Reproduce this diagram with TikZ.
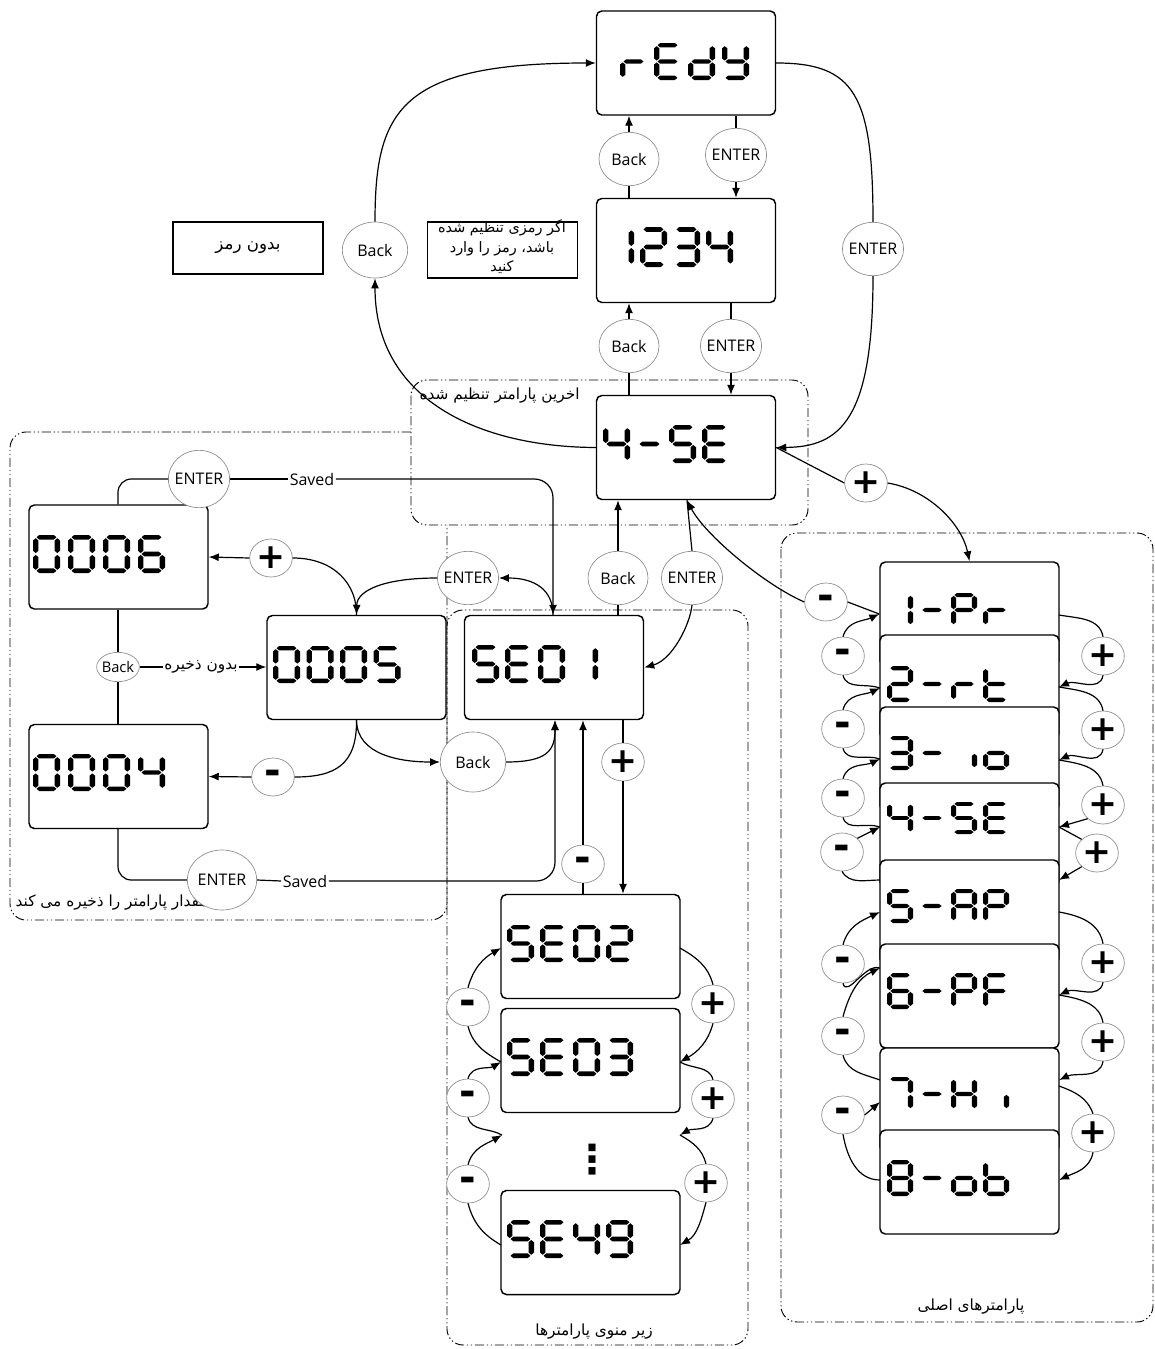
\documentclass[tikz,border=0pt]{standalone}
\usepackage{fontspec}
\setmainfont{Open Sans}
\newfontfamily\fa[Script=Arabic]{DejaVu Sans}
\newfontfamily\djv{DejaVu Sans}
\TeXXeTstate=1
\usetikzlibrary{shapes.geometric,arrows.meta}
% seven segment pieces (unit cell: width 1, height 2, y downwards)
\def\sgA{\fill (0.13,0.12)--(0.23,0)--(0.77,0)--(0.87,0.12)--(0.77,0.24)--(0.23,0.24)--cycle;}
\def\sgG{\fill (0.13,1)--(0.23,0.88)--(0.77,0.88)--(0.87,1)--(0.77,1.12)--(0.23,1.12)--cycle;}
\def\sgD{\fill (0.13,1.88)--(0.23,1.76)--(0.77,1.76)--(0.87,1.88)--(0.77,2)--(0.23,2)--cycle;}
\def\sgF{\fill (0.1,0.17)--(0.2,0.29)--(0.2,0.83)--(0.1,0.95)--(0,0.83)--(0,0.29)--cycle;}
\def\sgB{\fill (0.9,0.17)--(1,0.29)--(1,0.83)--(0.9,0.95)--(0.8,0.83)--(0.8,0.29)--cycle;}
\def\sgE{\fill (0.1,1.05)--(0.2,1.17)--(0.2,1.71)--(0.1,1.83)--(0,1.71)--(0,1.17)--cycle;}
\def\sgC{\fill (0.9,1.05)--(1,1.17)--(1,1.71)--(0.9,1.83)--(0.8,1.71)--(0.8,1.17)--cycle;}
\def\sevr{\sgE\sgG}
\def\sevE{\sgA\sgD\sgE\sgF\sgG}
\def\sevd{\sgB\sgC\sgD\sgE\sgG}
\def\sevy{\sgB\sgC\sgD\sgF\sgG}
\def\sevone{\sgB\sgC}
\def\sevtwo{\sgA\sgB\sgD\sgE\sgG}
\def\sevthree{\sgA\sgB\sgC\sgD\sgG}
\def\sevfour{\sgB\sgC\sgF\sgG}
\def\sevfive{\sgA\sgC\sgD\sgF\sgG}
\def\sevsix{\sgA\sgC\sgD\sgE\sgF\sgG}
\def\sevseven{\sgA\sgB\sgC}
\def\seveight{\sgA\sgB\sgC\sgD\sgE\sgF\sgG}
\def\sevnine{\sgA\sgB\sgC\sgD\sgF\sgG}
\def\sevzero{\sgA\sgB\sgC\sgD\sgE\sgF}
\def\sevdash{\sgG}
\def\sevP{\sgA\sgB\sgE\sgF\sgG}
\def\sevt{\sgD\sgE\sgF\sgG}
\def\sevi{\sgC}
\def\sevo{\sgC\sgD\sgE\sgG}
\def\sevA{\sgA\sgB\sgC\sgE\sgF\sgG}
\def\sevF{\sgA\sgE\sgF\sgG}
\def\sevH{\sgB\sgC\sgE\sgF\sgG}
\def\sevb{\sgC\sgD\sgE\sgF\sgG}
% #1 x, #2 y (top-left), #3 pitch, #4 width, #5 height, #6 list
\newcommand\sevdisp[6]{\foreach \cc [count=\ii from 0] in {#6}{\begin{scope}[shift={({#1+\ii*#3},{#2})},xscale=#4,yscale={#5/2}]\cc\end{scope}}}
\begin{document}
\begin{tikzpicture}[x=0.75pt,y=-0.75pt,
  lcd/.style={draw, line width=1.1pt, rounded corners=4pt, fill=white, minimum width=134.25pt, minimum height=78pt, inner sep=0pt},
  ov/.style={ellipse, draw=black!45, line width=0.5pt, fill=white, inner xsep=-2pt, inner ysep=0pt, minimum width=45pt, minimum height=40pt, font=\fontsize{12}{14}\selectfont},
  pmc/.style={ellipse, draw=black!45, line width=0.5pt, fill=white, inner sep=0pt, minimum width=32pt, minimum height=28.5pt},
  pls/.style={pmc, font=\djv\bfseries\fontsize{26}{26}\selectfont},
  mns/.style={pmc, font=\djv\bfseries\fontsize{30}{30}\selectfont},
  con/.style={line width=0.9pt},
  arr/.style={con, -{Latex[length=7.5pt,width=6pt]}},
  zone/.style={draw, line width=0.7pt, rounded corners=12pt, dash pattern=on 7pt off 2pt on 1pt off 2pt on 1pt off 2pt},
  fatxt/.style={font=\fa\fontsize{11.5}{13}\selectfont, inner sep=1pt},
  lbl/.style={font=\fontsize{12}{14}\selectfont, inner sep=1pt}
]
\useasboundingbox (0,0) rectangle (1155,1349);
\coordinate (vA) at (687,0);
\coordinate (vB) at (553,0);
\coordinate (vC) at (555,0);
\coordinate (vD) at (118,0);
% zones
\draw[zone] (411,380) rectangle (808,525);
\draw[zone] (411,432) -- (10,432) -- (10,920) -- (447,920) -- (447,525);
\draw[zone] (447,610) rectangle (748,1345);
\draw[zone] (781,533) rectangle (1153,1322);
\node[fatxt, anchor=west] (zl1) at (418,396) {\beginR اخرین پارامتر تنظیم شده\endR};
\node[fatxt, anchor=west] (zl2) at (14,903) {\beginR مقدار پارامتر را ذخیره می کند\endR};
\node[fatxt] (zl3) at (594,1332) {\beginR زیر منوی پارامترها\endR};
\node[fatxt] (zl4) at (971,1307) {\beginR پارامترهای اصلی\endR};
% text boxes
\node[draw, line width=0.9pt, minimum width=112.5pt, minimum height=39pt, font=\fa\fontsize{12.5}{14}\selectfont] (nopw) at (248,248) {\beginR بدون رمز\endR};
\node[draw, line width=0.9pt, minimum width=112pt, minimum height=42pt] (pwbox) at (502.5,250) {};
\node[align=center, font=\fa\fontsize{10.8}{14.6}\selectfont, inner sep=0pt] (pwtxt) at (502,247) {\beginR اگر رمزی تنظیم شده\endR\\\beginR باشد، رمز را وارد\endR\\\beginR کنید\endR};
% display boxes
\node[lcd] (rdy) at (686,63) {};
\node[lcd] (pw) at (686,250.5) {};
\node[lcd] (lst) at (686,447.5) {};
\node[lcd] (b6) at (118.5,557) {};
\node[lcd] (b5) at (356.5,667.5) {};
\node[lcd] (b4) at (118.5,776.5) {};
\node[lcd] (se01) at (554,667.5) {};
\node[lcd] (se02) at (590.5,946.5) {};
\node[lcd] (se03) at (590.5,1060.5) {};
\node[lcd] (se49) at (590.5,1242.5) {};
\node[lcd] (pr1) at (969.5,614) {};
\node[lcd] (pr2) at (969.5,687) {};
\node[lcd] (pr3) at (969.5,759) {};
\node[lcd] (pr4) at (969.5,835) {};
\node[lcd] (pr5) at (969.5,912) {};
\node[lcd] (pr6) at (969.5,996) {};
\node[lcd] (pr7) at (969.5,1100) {};
\node[lcd] (pr8) at (969.5,1182) {};
% display digits
\sevdisp{620}{43}{34}{27}{37}{\sevr,\sevE,\sevd,\sevy}
\sevdisp{607}{227}{33}{27}{40}{\sevone,\sevtwo,\sevthree,\sevfour}
\sevdisp{603}{425}{33}{27}{38}{\sevfour,\sevdash,\sevfive,\sevE}
\sevdisp{33}{535}{35}{27}{38}{\sevzero,\sevzero,\sevzero,\sevsix}
\sevdisp{273}{646}{33.5}{27}{37}{\sevzero,\sevzero,\sevzero,\sevfive}
\sevdisp{33}{754}{35}{27}{37}{\sevzero,\sevzero,\sevzero,\sevfour}
\sevdisp{472}{645}{33}{27}{38}{\sevfive,\sevE,\sevzero,\sevone}
\sevdisp{507}{925}{33}{27}{37}{\sevfive,\sevE,\sevzero,\sevtwo}
\sevdisp{507}{1038}{33}{27}{38}{\sevfive,\sevE,\sevzero,\sevthree}
\sevdisp{507}{1220}{33}{27}{38}{\sevfive,\sevE,\sevfour,\sevnine}
\sevdisp{887}{593}{32}{26}{34}{\sevone,\sevdash,\sevP,\sevr}
\sevdisp{887}{666}{32}{26}{36}{\sevtwo,\sevdash,\sevr,\sevt}
\sevdisp{887}{736}{32}{26}{34}{\sevthree,\sevdash,\sevi,\sevo}
\sevdisp{887}{802}{32}{26}{32}{\sevfour,\sevdash,\sevfive,\sevE}
\sevdisp{887}{889}{32}{26}{34}{\sevfive,\sevdash,\sevA,\sevP}
\sevdisp{887}{973}{32}{26}{36}{\sevsix,\sevdash,\sevP,\sevF}
\sevdisp{887}{1077}{32}{26}{34}{\sevseven,\sevdash,\sevH,\sevi}
\sevdisp{887}{1160}{32}{26}{36}{\seveight,\sevdash,\sevo,\sevb}
\node[font=\djv\bfseries\fontsize{30}{30}\selectfont, inner sep=0pt] (dots) at (592,1160) {⋮};
% ellipses
\node[ov] (bkA) at (629,159) {Back};
\node[ov] (enA) at (736,155) {ENTER};
\node[ov] (bkB) at (629,346) {Back};
\node[ov] (enB) at (731,346) {ENTER};
\node[ov, minimum width=49pt, minimum height=42pt] (bkC) at (375,250) {Back};
\node[ov] (enC) at (873,249) {ENTER};
\node[ov] (bkD) at (618,578) {Back};
\node[ov] (enD) at (692,578) {ENTER};
\node[ov, minimum height=43pt] (enL1) at (199,479) {ENTER};
\node[ov] (enL2) at (468,578) {ENTER};
\node[ov, minimum width=49pt, minimum height=45pt] (bkL2) at (473,762) {Back};
\node[ov, minimum width=52pt, minimum height=45pt] (enL3) at (222,880) {ENTER};
\node[ov, inner xsep=-3pt, minimum width=32pt, minimum height=22pt, font=\fontsize{11}{13}\selectfont] (bkL) at (118,667) {Back};
\node[lbl] (svL1) at (312,479) {Saved};
\node[lbl] (svL2) at (305,881) {Saved};
\node[fatxt] (nsv) at (201,667) {\beginR بدون ذخیره\endR};
% plus / minus
\node[pls] (plC) at (866,483) {+};
\node[mns] (mnC) at (826,602) {-};
\node[pls] (plL) at (271,558) {+};
\node[mns] (mnL) at (273,777) {-};
\node[pls] (pM) at (623,762) {+};
\node[mns] (mM) at (583,864) {-};
\node[mns] (mm1) at (468,1007) {-};
\node[mns] (mm2) at (468,1098) {-};
\node[mns] (mm3) at (468,1184) {-};
\node[pls] (pp1) at (713,1004) {+};
\node[pls] (pp2) at (713,1099) {+};
\node[pls] (pp3) at (706,1183) {+};
\node[mns] (m1) at (843,656) {-};
\node[mns] (m2) at (843,729) {-};
\node[mns] (m3) at (843,798) {-};
\node[mns] (m4) at (842,852) {-};
\node[mns] (m5) at (843,964) {-};
\node[mns] (m6) at (843,1036) {-};
\node[mns] (m7) at (843,1115) {-};
\node[pls] (p1) at (1103,656) {+};
\node[pls] (p2) at (1103,730) {+};
\node[pls] (p3) at (1103,805) {+};
\node[pls] (p4) at (1097,853) {+};
\node[pls] (p5) at (1103,963) {+};
\node[pls] (p6) at (1103,1042) {+};
\node[pls] (p7) at (1093,1133) {+};
% junction points
\coordinate (LJ2) at (880,688);
\coordinate (LJ3) at (880,759);
\coordinate (LJ4) at (880,827);
\coordinate (LJ5a) at (880,880);
\coordinate (LJ5b) at (880,912);
\coordinate (LJ6) at (880,968);
\coordinate (LJ7a) at (880,1080);
\coordinate (LJ7b) at (880,1102);
\coordinate (LJ8) at (880,1180);
\coordinate (RJ1) at (1059,615);
\coordinate (RJ2) at (1059,687);
\coordinate (RJ3) at (1059,760);
\coordinate (RJ4) at (1059,827);
\coordinate (RJ5a) at (1059,880);
\coordinate (RJ5b) at (1059,912);
\coordinate (RJ6) at (1059,995);
\coordinate (RJ7a) at (1059,1080);
\coordinate (RJ7b) at (1059,1086);
\coordinate (RJ8) at (1059,1180);
\coordinate (ML1) at (501,948);
\coordinate (ML2) at (501,1062);
\coordinate (ML3) at (502,1135);
\coordinate (ML4) at (501,1245);
\coordinate (MR1) at (680,948);
\coordinate (MR2) at (680,1062);
\coordinate (MR3) at (680,1135);
\coordinate (MR4) at (680,1245);
% top column connectors
\draw[arr] (bkA.north) -- (rdy.south -| bkA.north);
\draw[con] (pw.north -| bkA.south) -- (bkA.south);
\draw[con] (rdy.south -| enA.north) -- (enA.north);
\draw[arr] (enA.south) -- (pw.north -| enA.south);
\draw[arr] (bkB.north) -- (pw.south -| bkB.north);
\draw[con] (lst.north -| bkB.south) -- (bkB.south);
\draw[con] (pw.south -| enB.north) -- (enB.north);
\draw[arr] (enB.south) -- (lst.north -| enB.south);
\draw[arr] (lst.west) .. controls (480,447) and (375,400) .. (bkC.south);
\draw[arr] (bkC.north) .. controls (375,110) and (400,63) .. (rdy.west);
\draw[con] (rdy.east) .. controls (855,63) and (873,95) .. (enC.north);
\draw[arr] (enC.south) .. controls (873,420) and (840,447) .. (lst.east);
\draw[con] (lst.east) -- (plC.west);
\draw[arr] (plC.east) .. controls (930,490) and (962,525) .. (pr1.north);
\draw[con] (pr1.west) -- (mnC.east);
\draw[arr] (mnC.west) .. controls (765,585) and (705,535) .. (lst.south -| vA);
\draw[arr] (bkD.north) -- (lst.south -| bkD.north);
\draw[con] (se01.north -| bkD.south) -- (bkD.south);
\draw[con] (lst.south -| vA) -- (enD.north);
\draw[arr] (enD.south) .. controls (690,625) and (672,660) .. (se01.east);
% left region connectors
\draw[con, rounded corners=10pt] (b6.north -| vD) |- (enL1.west);
\draw[con] (enL1.east) -- (svL1.west);
\draw[arr, rounded corners=14pt] (svL1.east) -| (se01.north -| vB);
\draw[arr] (plL.west) -- (b6.east);
\draw[con] (b5.north) .. controls (357,585) and (335,558) .. (plL.east);
\draw[arr] (enL2.west) .. controls (385,578) and (357,590) .. (b5.north);
\draw[arr] (se01.north -| vB) .. controls (553,590) and (535,578) .. (enL2.east);
\draw[con] (b6.south -| vD) -- (bkL.north);
\draw[con] (bkL.south) -- (b4.north -| vD);
\draw[con] (bkL.east) -- (nsv.west);
\draw[arr] (nsv.east) -- (b5.west |- nsv.east);
\draw[con] (b5.south) .. controls (357,765) and (335,777) .. (mnL.east);
\draw[arr] (mnL.west) -- (b4.east);
\draw[arr] (b5.south) .. controls (357,755) and (400,762) .. (bkL2.west);
\draw[arr] (bkL2.east) .. controls (548,762) and (555,750) .. (se01.south -| vC);
\draw[con, rounded corners=10pt] (b4.south -| vD) |- (enL3.west);
\draw[con] (enL3.east) -- (svL2.west);
\draw[arr, rounded corners=14pt] (svL2.east) -| (se01.south -| vC);
% middle column
\draw[con] (se01.south -| pM.north) -- (pM.north);
\draw[arr] (pM.south) -- (se02.north -| pM.south);
\draw[arr] (mM.north) -- (se01.south -| mM.north);
\draw[con] (se02.north -| mM.south) -- (mM.south);
\draw[con] (ML2) to[out=150,in=-75] (mm1.south);
\draw[arr] (mm1.north) to[out=75,in=210] (ML1);
\draw[con] (ML3) to[out=150,in=-75] (mm2.south);
\draw[arr] (mm2.north) to[out=75,in=210] (ML2);
\draw[con] (ML4) to[out=150,in=-75] (mm3.south);
\draw[arr] (mm3.north) to[out=75,in=210] (ML3);
\draw[con] (MR1) to[out=-30,in=105] (pp1.north);
\draw[arr] (pp1.south) to[out=-105,in=30] (MR2);
\draw[con] (MR2) to[out=-30,in=105] (pp2.north);
\draw[arr] (pp2.south) to[out=-105,in=30] (MR3);
\draw[con] (MR3) to[out=-30,in=105] (pp3.north);
\draw[arr] (pp3.south) to[out=-105,in=30] (MR4);
% right column
\draw[arr] (m1.north) to[out=75,in=205] (pr1.west);
\draw[con] (LJ2) to[out=160,in=-75] (m1.south);
\draw[arr] (m2.north) to[out=75,in=205] (LJ2);
\draw[con] (LJ3) to[out=160,in=-75] (m2.south);
\draw[arr] (m3.north) to[out=75,in=205] (LJ3);
\draw[con] (LJ4) to[out=160,in=-75] (m3.south);
\draw[arr] (m4.north east) -- (LJ4);
\draw[con] (LJ5a) to[out=180,in=-60] (m4.south);
\draw[arr] (m5.north) to[out=75,in=205] (LJ5b);
\draw[con] (LJ6) to[out=160,in=-75] (m5.south);
\draw[arr] (m6.north) to[out=75,in=205] (LJ6);
\draw[con] (LJ7a) to[out=160,in=-75] (m6.south);
\draw[arr] (m7.east) -- (LJ7b);
\draw[con] (LJ8) to[out=180,in=-80] (m7.south);
\draw[con] (RJ1) to[out=-10,in=100] (p1.north);
\draw[arr] (p1.south) to[out=-100,in=25] (RJ2);
\draw[con] (RJ2) to[out=-10,in=100] (p2.north);
\draw[arr] (p2.south) to[out=-100,in=25] (RJ3);
\draw[con] (RJ3) to[out=-10,in=100] (p3.north);
\draw[arr] (p3.south west) -- (RJ4);
\draw[con] (RJ4) -- (p4.north west);
\draw[arr] (p4.south west) -- (RJ5a);
\draw[con] (RJ5b) to[out=-10,in=100] (p5.north);
\draw[arr] (p5.south) to[out=-100,in=25] (RJ6);
\draw[con] (RJ6) to[out=-10,in=100] (p6.north);
\draw[arr] (p6.south) to[out=-100,in=25] (RJ7a);
\draw[con] (RJ7b) to[out=-20,in=110] (p7.north);
\draw[arr] (p7.south) to[out=-100,in=25] (RJ8);
\end{tikzpicture}
\end{document}
